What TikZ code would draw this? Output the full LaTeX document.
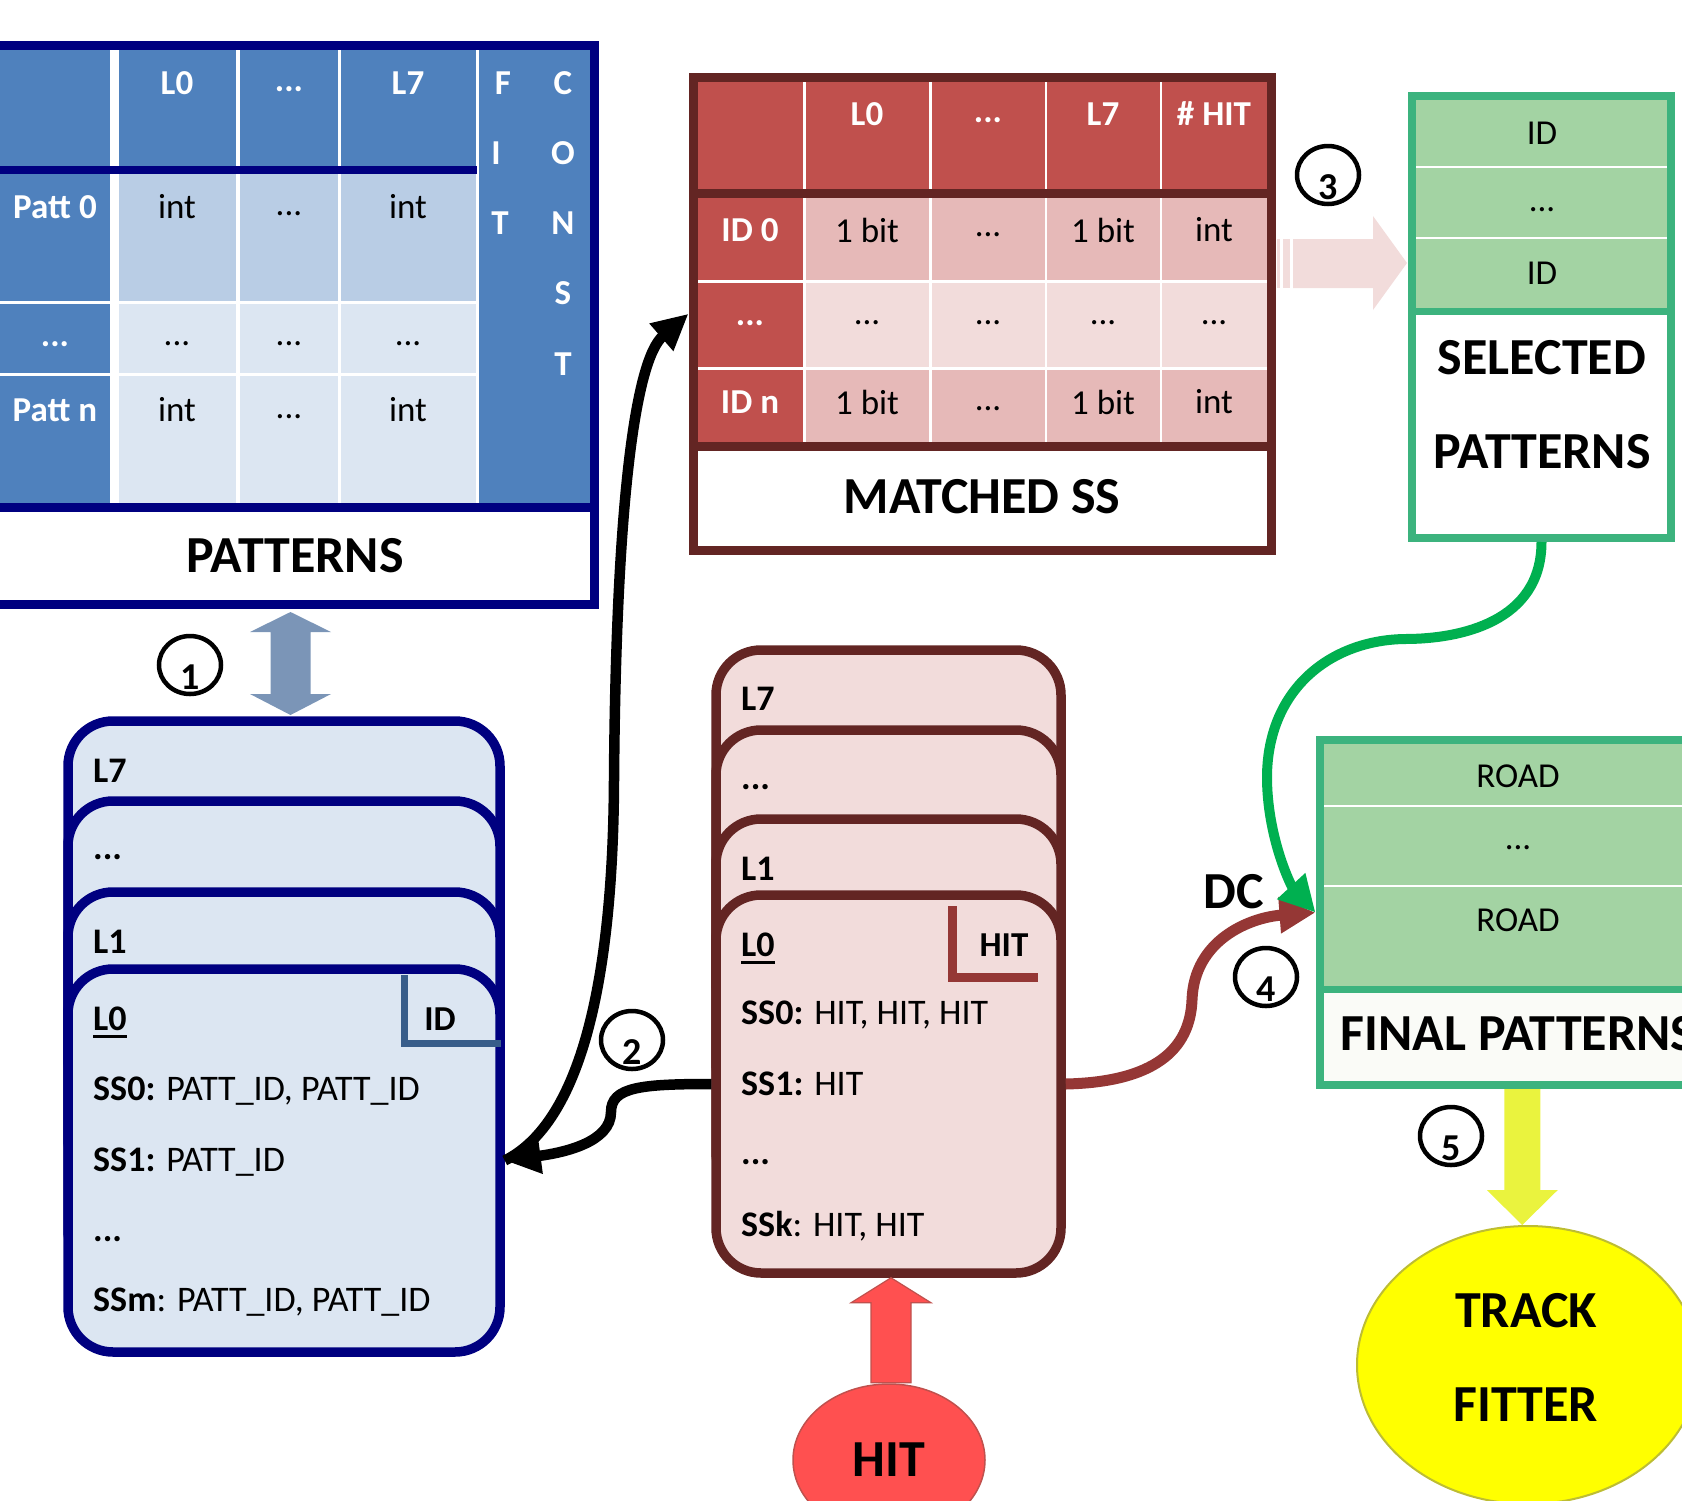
\documentclass[tikz,border=0pt]{standalone}
\usepackage{fontspec}
\setmainfont{Carlito}
\usetikzlibrary{shapes.geometric,arrows.meta,calc}

\definecolor{navy}{HTML}{000080}
\definecolor{pblue}{HTML}{4F81BD}
\definecolor{pcell}{HTML}{B9CDE5}
\definecolor{pcellb}{HTML}{DCE6F2}
\definecolor{mdark}{HTML}{632523}
\definecolor{mhead}{HTML}{C0504D}
\definecolor{mcell}{HTML}{E6B9B8}
\definecolor{mcellb}{HTML}{F2DCDB}
\definecolor{gframe}{HTML}{3CB37E}
\definecolor{gcell}{HTML}{A3D3A3}
\definecolor{garrow}{HTML}{00B050}
\definecolor{marrow}{HTML}{953735}
\definecolor{idline}{HTML}{385D8A}
\definecolor{dblarrow}{HTML}{7B95B7}
\definecolor{hitred}{HTML}{FF5050}
\definecolor{hitedge}{HTML}{C0504D}
\definecolor{yarrow}{HTML}{EAF33E}
\definecolor{yfill}{HTML}{FFFF00}
\definecolor{yedge}{HTML}{BDBD33}
\definecolor{labelwhite}{HTML}{FAFBF7}

\newcommand\fsz[1]{\fontsize{#1}{#1}\selectfont}
\newcommand\uln[1]{\setbox0\hbox{#1}\rlap{\rule[-7pt]{\wd0}{2.8pt}}\box0}

\begin{document}
\begin{tikzpicture}[x=1pt,y=-1pt,
  txt/.style={inner sep=0pt,font=\fsz{35}},
  wtxt/.style={inner sep=0pt,font=\fsz{35}\bfseries,text=white},
  btxt/.style={inner sep=0pt,font=\fsz{35}\bfseries},
  big/.style={inner sep=0pt,font=\fsz{52}\bfseries},
  ctxt/.style={inner sep=0pt,font=\fsz{36},anchor=base west},
  numcirc/.style={ellipse,draw=black,line width=4.5pt,minimum width=62pt,minimum height=58pt,inner sep=0pt},
  numdig/.style={inner sep=0pt,font=\fsz{38}\bfseries},
  bluecard/.style={draw=navy,line width=9.5pt,fill=pcellb,rounded corners=45pt,
    minimum width=432pt,minimum height=383pt,inner sep=0pt},
  pinkcard/.style={draw=mdark,line width=9.5pt,fill=mcellb,rounded corners=45pt,
    minimum width=345pt,minimum height=378pt,inner sep=0pt},
  flowblack/.style={line width=10.5pt,draw=black,-{Triangle[length=36pt,width=34pt]}},
  flowmaroon/.style={line width=11pt,draw=marrow,-{Triangle[length=36pt,width=34pt]}},
  flowgreen/.style={line width=10pt,draw=garrow,-{Triangle[length=36pt,width=36pt]}},
]
\useasboundingbox (0,0) rectangle (1682,1500);
\clip (0,0) rectangle (1682,1500);

% ---------------- PATTERNS table ----------------
\fill[pblue] (-15,49.5) rectangle (110,166);
\fill[pblue] (-15,174) rectangle (110,301);
\fill[pblue] (-15,304) rectangle (110,373);
\fill[pblue] (-15,376) rectangle (110,503);
\fill[pblue] (479,49.5) rectangle (590,503);
\foreach \a/\b in {119/236,240/338,341/476}{
  \fill[pblue] (\a,49.5) rectangle (\b,166);
  \fill[pcell] (\a,174) rectangle (\b,301);
  \fill[pcellb] (\a,304) rectangle (\b,373);
  \fill[pcellb] (\a,376) rectangle (\b,503);
}
\draw[navy,line width=8pt] (-15,170) -- (477,170);
\draw[navy,line width=9pt] (-15,507.5) -- (594,507.5);
\node[draw=navy,line width=9pt,minimum width=609pt,minimum height=559pt,inner sep=0pt] (patterns) at (289.5,324.5) {};

\node[wtxt] (pL0) at (177,83) {L0};
\node[wtxt] (pLd) at (289,89) {...};
\node[wtxt] (pL7) at (408,83) {L7};
\node[wtxt] (fitF) at (503,83) {F};
\node[wtxt] (fitI) at (496,153) {I};
\node[wtxt] (fitT) at (500,223) {T};
\node[wtxt] (cC) at (563,83) {C};
\node[wtxt] (cO) at (563,153) {O};
\node[wtxt] (cN) at (563,223) {N};
\node[wtxt] (cS) at (563,293) {S};
\node[wtxt] (cT) at (563,364) {T};
\node[wtxt] (pr0) at (55,207) {Patt 0};
\node[txt] (p00) at (177,207) {int};
\node[txt] (p01) at (289,214) {...};
\node[txt] (p02) at (408,207) {int};
\node[wtxt] (prd) at (55,344) {...};
\node[txt] (pd0) at (177,344) {...};
\node[txt] (pd1) at (289,344) {...};
\node[txt] (pd2) at (408,344) {...};
\node[wtxt] (prn) at (55,410) {Patt n};
\node[txt] (pn0) at (177,410) {int};
\node[txt] (pn1) at (289,417) {...};
\node[txt] (pn2) at (408,410) {int};
\node[big] (plab) at (295,556) {PATTERNS};

% ---------------- MATCHED SS table ----------------
\fill[mhead] (697,80) rectangle (803,190);
\fill[mhead] (697,197) rectangle (803,280);
\fill[mhead] (697,283) rectangle (803,367);
\fill[mhead] (697,370) rectangle (803,443);
\foreach \a/\b in {806/929,931.5/1044.6,1047/1159.6,1162/1267}{
  \fill[mhead] (\a,80) rectangle (\b,190);
  \fill[mcell] (\a,197) rectangle (\b,280);
  \fill[mcellb] (\a,283) rectangle (\b,367);
  \fill[mcell] (\a,370) rectangle (\b,443);
}
\draw[mdark,line width=9pt] (693,193.5) -- (1271,193.5);
\draw[mdark,line width=9pt] (693,446.5) -- (1271,446.5);
\node[draw=mdark,line width=9pt,minimum width=578pt,minimum height=472.5pt,inner sep=0pt] (matched) at (982,313.75) {};

\node[wtxt] (mL0) at (867,114) {L0};
\node[wtxt] (mLd) at (988,120) {...};
\node[wtxt] (mL7) at (1103,114) {L7};
\node[wtxt] (mLh) at (1214,114) {\# HIT};
\node[wtxt] (mr0) at (750,230) {ID 0};
\node[txt] (m00) at (867,230) {1 bit};
\node[txt] (m01) at (988,235) {...};
\node[txt] (m02) at (1103,230) {1 bit};
\node[txt] (m03) at (1214,230) {int};
\node[wtxt] (mrd) at (750,323) {...};
\node[txt] (md0) at (867,323) {...};
\node[txt] (md1) at (988,323) {...};
\node[txt] (md2) at (1103,323) {...};
\node[txt] (md3) at (1214,323) {...};
\node[wtxt] (mrn) at (750,402) {ID n};
\node[txt] (mn0) at (867,402) {1 bit};
\node[txt] (mn1) at (988,409) {...};
\node[txt] (mn2) at (1103,402) {1 bit};
\node[txt] (mn3) at (1214,402) {int};
\node[big] (mlab) at (982,497) {MATCHED SS};

% ---------------- SELECTED PATTERNS ----------------
\foreach \a/\b in {100/166,167.5/237,239/308}
  \fill[gcell] (1416,\a) rectangle (1667,\b);
\draw[gframe,line width=7pt] (1412,311.5) -- (1671,311.5);
\node[draw=gframe,line width=8pt,minimum width=259pt,minimum height=442pt,inner sep=0pt] (selected) at (1541.5,317) {};
\node[txt] (sid0) at (1542,133) {ID};
\node[txt] (sidd) at (1542,210) {...};
\node[txt] (sidn) at (1542,273) {ID};
\node[big] (sl1) at (1542,358) {SELECTED};
\node[big] (sl2) at (1542,452) {PATTERNS};

% ---------------- FINAL PATTERNS ----------------
\foreach \a/\b in {744/804.5,806.5/884.5,886.5/986}
  \fill[gcell] (1323.5,\a) rectangle (1713,\b);
\fill[labelwhite] (1323.5,992) rectangle (1713,1081);
\draw[gframe,line width=7pt] (1319.5,989) -- (1717,989);
\node[draw=gframe,line width=8pt,minimum width=397.5pt,minimum height=345pt,inner sep=0pt] (final) at (1518.25,912.5) {};
\node[txt] (fr0) at (1518,776) {ROAD};
\node[txt] (frd) at (1518,848) {...};
\node[txt] (frn) at (1518,920) {ROAD};
\node[big] (flab) at (1518,1034) {FINAL PATTERNS};

% ---------------- pattern cards (blue) ----------------
\node[bluecard] (b7) at (284,912.5) {};
\node[bluecard] (b6) at (284,992.5) {};
\node[bluecard] (b1) at (284,1083.5) {};
\node[bluecard] (b0) at (284,1160.5) {};
\node[ctxt,font=\fsz{36}\bfseries] (b7t) at (93,782.5) {L7};
\node[ctxt,font=\fsz{36}\bfseries] (b6t) at (93,859) {...};
\node[ctxt,font=\fsz{36}\bfseries] (b1t) at (93,953.5) {L1};
\node[ctxt,font=\fsz{36}\bfseries] (b0t) at (93,1030.5) {\uln{L0}};
\draw[idline,line width=7pt] (404,975) -- (404,1043) -- (501,1043);
\node[btxt] (bid) at (440,1019) {ID};
\node[ctxt] (bs0) at (93,1100.5) {\textbf{SS0:} PATT\_ID, PATT\_ID};
\node[ctxt] (bs1) at (93,1171.5) {\textbf{SS1:} PATT\_ID};
\node[ctxt,font=\fsz{36}\bfseries] (bsd) at (93,1241) {...};
\node[ctxt] (bsm) at (93,1311.5) {\textbf{SSm}: PATT\_ID, PATT\_ID};

% ---------------- hit cards (pink) ----------------
\node[pinkcard] (p7) at (888.5,839) {};
\node[pinkcard] (p6) at (888.5,919) {};
\node[pinkcard] (p1) at (888.5,1008) {};
\node[pinkcard] (p0) at (888.5,1084) {};
\node[ctxt,font=\fsz{36}\bfseries] (p7t) at (741,710.5) {L7};
\node[ctxt,font=\fsz{36}\bfseries] (p6t) at (741,789) {...};
\node[ctxt,font=\fsz{36}\bfseries] (p1t) at (741,880.5) {L1};
\node[ctxt,font=\fsz{36}\bfseries] (p0t) at (741,956.5) {\uln{L0}};
\draw[marrow,line width=9pt] (952,906) -- (952,977) -- (1038,977);
\node[btxt] (phit) at (1004,945) {HIT};
\node[ctxt] (ps0) at (741,1024.5) {\textbf{SS0:} HIT, HIT, HIT};
\node[ctxt] (ps1) at (741,1095.5) {\textbf{SS1:} HIT};
\node[ctxt,font=\fsz{36}\bfseries] (psd) at (741,1164) {...};
\node[ctxt] (psk) at (741,1236.5) {\textbf{SSk}: HIT, HIT};

% ---------------- sources and sinks ----------------
\node[ellipse,draw=hitedge,line width=1.5pt,fill=hitred,minimum width=192pt,minimum height=152pt,
  inner sep=0pt,font=\fsz{52}\bfseries] (hit) at (889,1460) {HIT};
\node[ellipse,draw=yedge,line width=2pt,fill=yfill,minimum width=342pt,minimum height=278pt,inner sep=0pt] (track) at (1528,1365) {};
\node[big] (tf1) at (1526,1311) {TRACK};
\node[big] (tf2) at (1526,1405) {FITTER};
\node[big] (dc) at (1234,892) {DC};

% ---------------- block arrows ----------------
% patterns <-> pattern cards
\fill[dblarrow,shift={(patterns.south)}]
  (1,3.5) -- (41.5,23.5) -- (21,23.5) -- (21,85.5) -- (41.5,85.5) -- (1,106.5)
  -- (-39.5,85.5) -- (-19,85.5) -- (-19,23.5) -- (-39.5,23.5) -- cycle;
% matched SS -> selected patterns (striped)
\begin{scope}[shift={(matched.east)}]
  \fill[mcellb] (1.5,-74.75) rectangle (4.5,-25.75);
  \fill[mcellb] (7.5,-74.75) rectangle (14.5,-25.75);
  \fill[mcellb] (17.5,-74.75) -- (97.5,-74.75) -- (97.5,-97.75) -- (131.5,-50.75)
    -- (97.5,-3.75) -- (97.5,-25.75) -- (17.5,-25.75) -- cycle;
\end{scope}
% hit -> hit cards
\filldraw[fill=hitred,draw=hitedge,line width=1.2pt,shift={(p0.south)}]
  (2.5,0) -- (42.5,25) -- (22.5,25) -- (22.5,105) -- (-17.5,105) -- (-17.5,25) -- (-37.5,25) -- cycle;
% final patterns -> track fitter
\fill[yarrow,shift={(final.south)}]
  (-14,0) -- (22,0) -- (22,101) -- (39.5,101) -- (4,136) -- (-31.5,101) -- (-14,101) -- cycle;

% ---------------- flow connectors ----------------
\draw[flowblack] (p0.west) .. controls +(-70,0) and +(0,-25) .. (611,1112)
  .. controls +(0,30) and +(60,-8) .. (b0.east);
\draw[flowblack] (b0.east) .. controls +(70,-35) and +(-1,220) .. (614,780)
  .. controls +(2,-280) and +(-53,46) .. (matched.west);
\draw[flowmaroon] (p0.east) .. controls +(88,-2) and +(-2,50) .. (1192,1000)
  .. controls +(2,-60) and +(-66,5) .. (final.west);
\draw[flowgreen] (selected.south) .. controls +(0,80) and +(55,0) .. (1405,639)
  .. controls +(-75,1) and +(-1,-90) .. (1267,780)
  .. controls +(1,60) and +(-24,-26) .. (final.west);

% ---------------- step numbers ----------------
\node[numcirc] (c1) at (190,665) {};
\node[numdig] (d1) at (190,677) {1};
\node[numcirc] (c2) at (632,1040) {};
\node[numdig] (d2) at (632,1052) {2};
\node[numcirc] (c3) at (1328,175) {};
\node[numdig] (d3) at (1328,187) {3};
\node[numcirc] (c4) at (1266,977) {};
\node[numdig] (d4) at (1266,989) {4};
\node[numcirc] (c5) at (1451,1136) {};
\node[numdig] (d5) at (1451,1148) {5};
\end{tikzpicture}
\end{document}
